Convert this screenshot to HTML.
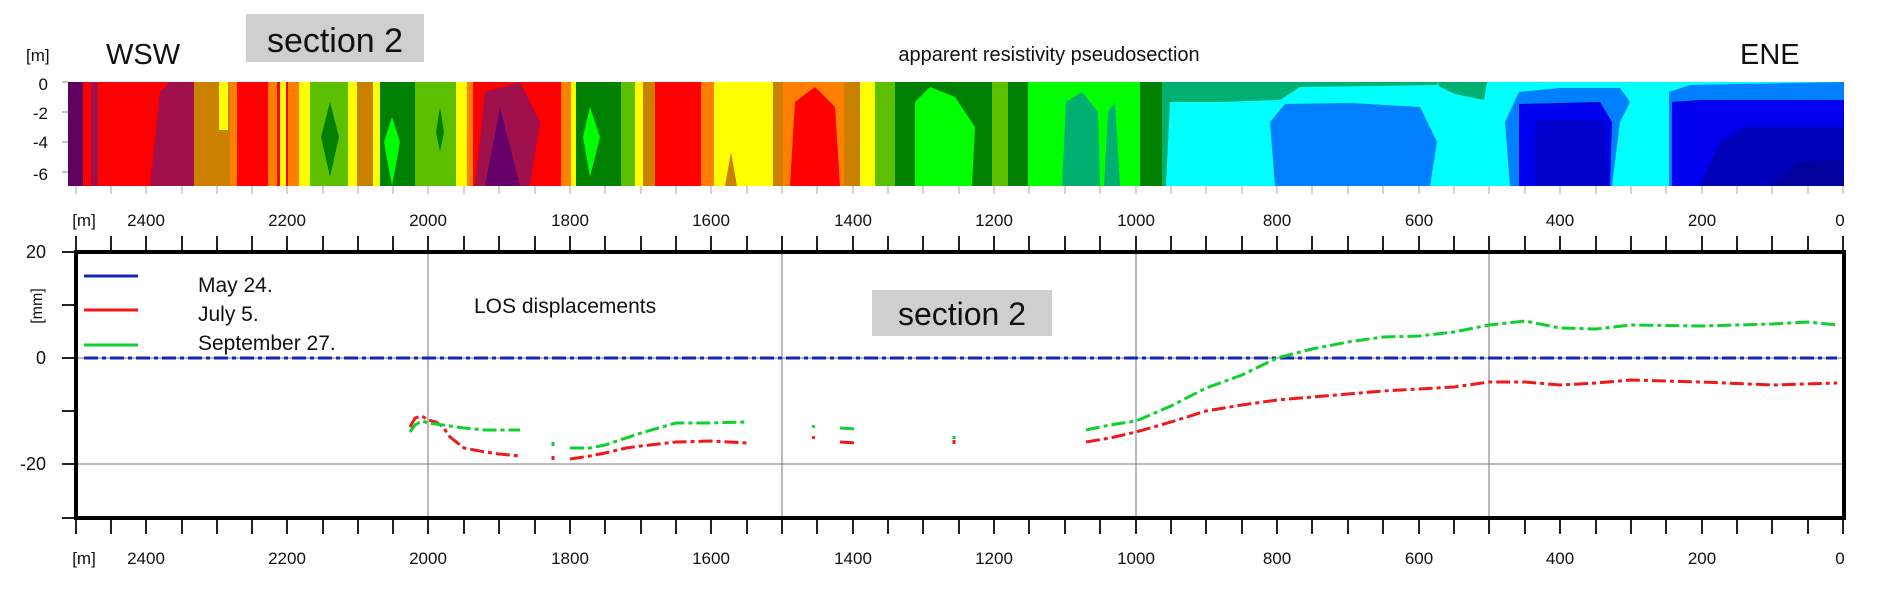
<!DOCTYPE html>
<html><head><meta charset="utf-8"><style>
body{margin:0;background:#fff;}
svg text{font-family:"Liberation Sans",sans-serif;fill:#111;}
</style></head><body>
<svg width="1882" height="589" viewBox="0 0 1882 589" xmlns="http://www.w3.org/2000/svg">
<text x="26" y="61" font-size="17">[m]</text>
<text x="106" y="64" font-size="29">WSW</text>
<rect x="246" y="14" width="178" height="48" fill="#cfcfcf"/>
<text x="335" y="52" font-size="34" text-anchor="middle">section 2</text>
<text x="1049" y="61" font-size="20" text-anchor="middle">apparent resistivity pseudosection</text>
<text x="1740" y="64" font-size="29">ENE</text>

<g transform="translate(0,82)">
<rect x="68" y="0" width="1100" height="104" fill="#ff0000"/>
<rect x="1162" y="0" width="682" height="104" fill="#00ffff"/>
<rect x="68" y="0" width="15" height="104" fill="#600060"/>
<rect x="83" y="0" width="8" height="104" fill="#ff0000"/>
<rect x="91" y="0" width="7" height="104" fill="#a0104a"/>
<polygon points="150,104 160,10 170,0 194,0 194,104" fill="#a0104a"/>
<rect x="194" y="0" width="25" height="104" fill="#cc8000"/>
<rect x="219" y="0" width="11" height="104" fill="#cc8000"/>
<rect x="219" y="0" width="9" height="48" fill="#ffff00"/>
<rect x="230" y="0" width="7" height="104" fill="#ff8000"/>
<rect x="268" y="0" width="9" height="104" fill="#ff8000"/>
<rect x="280" y="0" width="6" height="104" fill="#ffff00"/>
<rect x="288" y="0" width="11" height="104" fill="#ff8000"/>
<rect x="299" y="0" width="11" height="104" fill="#ffff00"/>
<rect x="310" y="0" width="38" height="104" fill="#5cc000"/>
<polygon points="330,20 339,55 330,95 321,55" fill="#008000"/>
<rect x="348" y="0" width="9" height="104" fill="#ffff00"/>
<rect x="357" y="0" width="16" height="104" fill="#cc8000"/>
<rect x="373" y="0" width="7" height="104" fill="#ffff00"/>
<rect x="380" y="0" width="35" height="104" fill="#008000"/>
<polygon points="392,35 400,60 392,104 384,60" fill="#00ff00"/>
<rect x="415" y="0" width="41" height="104" fill="#5cc000"/>
<polygon points="440,25 444,50 440,70 436,50" fill="#008000"/>
<rect x="456" y="0" width="11" height="104" fill="#ffff00"/>
<rect x="467" y="0" width="6" height="104" fill="#ff8000"/>
<polygon points="475,104 485,10 520,0 540,40 530,104" fill="#a0104a"/>
<polygon points="485,104 500,25 520,104" fill="#66006a"/>
<rect x="561" y="0" width="10" height="104" fill="#ff8000"/>
<rect x="571" y="0" width="5" height="104" fill="#ffff00"/>
<rect x="576" y="0" width="45" height="104" fill="#008000"/>
<polygon points="590,25 600,55 590,95 583,55" fill="#00ff00"/>
<rect x="621" y="0" width="14" height="104" fill="#5cc000"/>
<rect x="635" y="0" width="8" height="104" fill="#ffff00"/>
<rect x="643" y="0" width="12" height="104" fill="#cc8000"/>
<rect x="701" y="0" width="13" height="104" fill="#ff8000"/>
<rect x="714" y="0" width="59" height="104" fill="#ffff00"/>
<polygon points="725,104 731,70 737,104" fill="#cc8000"/>
<rect x="773" y="0" width="12" height="104" fill="#cc8000"/>
<rect x="783" y="0" width="61" height="104" fill="#ff8000"/>
<polygon points="790,104 795,20 815,5 835,25 840,104" fill="#ff0000"/>
<rect x="844" y="0" width="16" height="104" fill="#cc8000"/>
<rect x="860" y="0" width="15" height="104" fill="#ffff00"/>
<rect x="875" y="0" width="20" height="104" fill="#5cc000"/>
<rect x="895" y="0" width="97" height="104" fill="#008000"/>
<polygon points="915,20 930,5 955,15 975,45 972,104 915,104" fill="#00ff00"/>
<rect x="992" y="0" width="16" height="104" fill="#5cc000"/>
<rect x="1008" y="0" width="20" height="104" fill="#008000"/>
<rect x="1028" y="0" width="112" height="104" fill="#00ff00"/>
<polygon points="1062,104 1066,20 1082,10 1098,30 1100,104" fill="#00b070"/>
<polygon points="1104,104 1108,30 1115,20 1120,104" fill="#00b070"/>
<rect x="1140" y="0" width="22" height="104" fill="#008000"/>
<rect x="1162" y="0" width="4" height="104" fill="#5cc000"/>
<polygon points="1162,0 1437,0 1437,3 1300,5 1280,18 1220,20 1170,20 1166,104 1162,104" fill="#00b070"/>
<polygon points="1437,0 1487,0 1484,18 1455,12 1440,5" fill="#00b070"/>
<polygon points="1275,104 1270,40 1285,22 1350,21 1420,25 1437,60 1430,104" fill="#0080ff"/>
<polygon points="1510,104 1505,40 1519,10 1560,6 1620,6 1630,20 1620,40 1612,104" fill="#0080ff"/>
<polygon points="1519,104 1519,22 1600,20 1612,40 1610,104" fill="#0000ee"/>
<polygon points="1535,104 1535,38 1605,38 1608,104" fill="#0000cc"/>
<polygon points="1669,104 1669,10 1690,3 1844,0 1844,104" fill="#0080ff"/>
<polygon points="1672,104 1672,20 1700,18 1844,18 1844,104" fill="#0000ee"/>
<polygon points="1700,104 1720,60 1744,45 1844,45 1844,104" fill="#0000b8"/>
<polygon points="1770,104 1800,80 1840,78 1844,104" fill="#00009a"/>
</g>
<g font-size="17" text-anchor="end">
<text x="48" y="90">0</text><text x="48" y="119">-2</text><text x="48" y="148">-4</text><text x="48" y="180">-6</text>
</g>
<g stroke="#888" stroke-width="1">
<line x1="62" y1="82" x2="68" y2="82"/><line x1="62" y1="112" x2="68" y2="112"/><line x1="62" y1="142" x2="68" y2="142"/><line x1="62" y1="172" x2="68" y2="172"/>
</g>

<g font-size="17" text-anchor="middle">
<text x="84" y="226">[m]</text>
<text x="146" y="226">2400</text><text x="287" y="226">2200</text><text x="428" y="226">2000</text><text x="570" y="226">1800</text><text x="711" y="226">1600</text><text x="853" y="226">1400</text><text x="994" y="226">1200</text><text x="1136" y="226">1000</text><text x="1277" y="226">800</text><text x="1419" y="226">600</text><text x="1560" y="226">400</text><text x="1702" y="226">200</text><text x="1840" y="226">0</text>
<text x="84" y="564">[m]</text>
<text x="146" y="564">2400</text><text x="287" y="564">2200</text><text x="428" y="564">2000</text><text x="570" y="564">1800</text><text x="711" y="564">1600</text><text x="853" y="564">1400</text><text x="994" y="564">1200</text><text x="1136" y="564">1000</text><text x="1277" y="564">800</text><text x="1419" y="564">600</text><text x="1560" y="564">400</text><text x="1702" y="564">200</text><text x="1840" y="564">0</text>
</g>
<g stroke="#222" stroke-width="2">
<path d="M76 236V252M111 236V252M146 236V252M182 236V252M217 236V252M252 236V252M287 236V252M323 236V252M358 236V252M393 236V252M428 236V252M464 236V252M499 236V252M535 236V252M570 236V252M605 236V252M641 236V252M676 236V252M711 236V252M747 236V252M782 236V252M817 236V252M853 236V252M888 236V252M923 236V252M959 236V252M994 236V252M1029 236V252M1065 236V252M1100 236V252M1136 236V252M1171 236V252M1206 236V252M1242 236V252M1277 236V252M1312 236V252M1348 236V252M1383 236V252M1419 236V252M1454 236V252M1489 236V252M1525 236V252M1560 236V252M1596 236V252M1631 236V252M1666 236V252M1702 236V252M1737 236V252M1772 236V252M1808 236V252M1843 236V252"/>
<path d="M76 518V534M111 518V534M146 518V534M182 518V534M217 518V534M252 518V534M287 518V534M323 518V534M358 518V534M393 518V534M428 518V534M464 518V534M499 518V534M535 518V534M570 518V534M605 518V534M641 518V534M676 518V534M711 518V534M747 518V534M782 518V534M817 518V534M853 518V534M888 518V534M923 518V534M959 518V534M994 518V534M1029 518V534M1065 518V534M1100 518V534M1136 518V534M1171 518V534M1206 518V534M1242 518V534M1277 518V534M1312 518V534M1348 518V534M1383 518V534M1419 518V534M1454 518V534M1489 518V534M1525 518V534M1560 518V534M1596 518V534M1631 518V534M1666 518V534M1702 518V534M1737 518V534M1772 518V534M1808 518V534M1843 518V534"/>
<path d="M62 252H76M62 305H76M62 358H76M62 411H76M62 464H76M62 518H76"/>
</g>
<g stroke="#aaa" stroke-width="1" fill="none">
<path d="M76 194V186M111 194V186M146 194V186M182 194V186M217 194V186M252 194V186M287 194V186M323 194V186M358 194V186M393 194V186M428 194V186M464 194V186M499 194V186M535 194V186M570 194V186M605 194V186M641 194V186M676 194V186M711 194V186M747 194V186M782 194V186M817 194V186M853 194V186M888 194V186M923 194V186M959 194V186M994 194V186M1029 194V186M1065 194V186M1100 194V186M1136 194V186M1171 194V186M1206 194V186M1242 194V186M1277 194V186M1312 194V186M1348 194V186M1383 194V186M1419 194V186M1454 194V186M1489 194V186M1525 194V186M1560 194V186M1596 194V186M1631 194V186M1666 194V186M1702 194V186M1737 194V186M1772 194V186M1808 194V186M1843 194V186"/>
</g>
<g stroke="#777" stroke-width="1">
<line x1="428" y1="252" x2="428" y2="518"/><line x1="782" y1="252" x2="782" y2="518"/><line x1="1136" y1="252" x2="1136" y2="518"/><line x1="1489" y1="252" x2="1489" y2="518"/>
<line x1="76" y1="464" x2="1844" y2="464"/><line x1="76" y1="358" x2="1844" y2="358"/>
</g>
<rect x="76" y="252" width="1768" height="266" fill="none" stroke="#000" stroke-width="4"/>
<g font-size="18" text-anchor="end">
<text x="46" y="258">20</text><text x="46" y="364">0</text><text x="46" y="470">-20</text>
</g>
<text transform="translate(42,306) rotate(-90)" font-size="16" text-anchor="middle">[mm]</text>

<line x1="84" y1="276" x2="138" y2="276" stroke="#1428b4" stroke-width="3"/>
<line x1="84" y1="310" x2="138" y2="310" stroke="#f01818" stroke-width="3"/>
<line x1="84" y1="345" x2="138" y2="345" stroke="#10d030" stroke-width="3"/>
<g font-size="21">
<text x="198" y="292">May 24.</text><text x="198" y="321">July 5.</text><text x="198" y="350">September 27.</text>
<text x="474" y="313">LOS displacements</text>
</g>
<rect x="872" y="290" width="180" height="46" fill="#cfcfcf"/>
<text x="962" y="325" font-size="32" text-anchor="middle">section 2</text>

<g fill="none" stroke-width="3" stroke-dasharray="14 4 4 4">
<line x1="84" y1="358" x2="1837" y2="358" stroke="#1428b4"/>
<polyline stroke="#f01818" points="410,427 415,418 422,416 428,420 436,422 443,427 450,437 464,448 485,452 499,454 520,456"/>
<polyline stroke="#10d030" points="410,432 415,425 422,421 428,423 443,425 464,428 485,430 520,430"/>
<polyline stroke="#f01818" points="553,456 553,460"/>
<polyline stroke="#10d030" points="553,442 553,446"/>
<polyline stroke="#f01818" points="570,459 590,456 605,453 626,448 641,446 676,442 711,441 747,443"/>
<polyline stroke="#10d030" points="570,448 590,448 605,445 626,438 641,433 676,423 711,423 747,422"/>
<polyline stroke="#f01818" points="812,437 815,438"/><polyline stroke="#10d030" points="812,426 815,427"/>
<polyline stroke="#f01818" points="840,442 856,443"/><polyline stroke="#10d030" points="840,428 856,429"/>
<polyline stroke="#f01818" points="954,440 954,444"/><polyline stroke="#10d030" points="954,436 954,439"/>
<polyline stroke="#f01818" points="1086,442 1110,438 1136,432 1171,422 1206,411 1242,405 1277,400 1348,394 1383,391 1419,389 1454,387 1489,382 1525,382 1560,385 1596,383 1631,380 1702,382 1772,385 1837,383"/>
<polyline stroke="#10d030" points="1086,430 1110,425 1136,421 1171,406 1206,388 1242,375 1277,358 1312,349 1348,342 1383,337 1419,336 1454,332 1489,325 1525,321 1560,328 1596,329 1631,325 1702,326 1772,324 1808,322 1837,325"/>
</g>
</svg>
</body></html>
